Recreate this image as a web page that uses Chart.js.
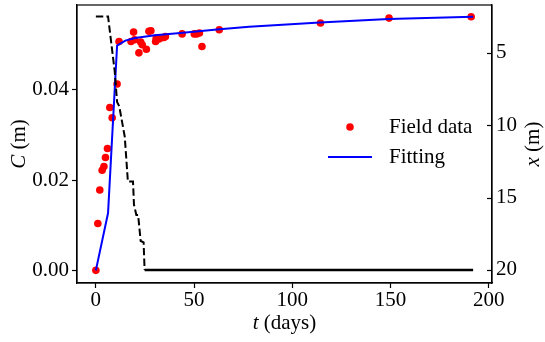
<!DOCTYPE html>
<html>
<head>
<meta charset="utf-8">
<script src="https://cdn.jsdelivr.net/npm/chart.js@4.4.1/dist/chart.umd.min.js"></script>
<style>
  html, body { margin: 0; padding: 0; background: #fff; }
</style>
</head>
<body>
<canvas id="fieldChart" width="545" height="342"></canvas>
<script>
// field measurements: time (days) and C (m)
const fieldDays = [0, 1, 2, 3.2, 4.1, 4.9, 5.9, 7.1, 8.3, 10.8, 11.8, 17.9, 19.2, 19.7, 21.9, 22.8, 23.6, 25.7,
                   27, 28, 30.4, 30.7, 32.4, 34.6, 35.4, 43.9, 50.1, 51.3, 52.7, 54, 62.8, 114.3, 149.2, 191];
const fieldC = [0, 0.0104, 0.0178, 0.0222, 0.023, 0.025, 0.027, 0.0361, 0.0338, 0.0413, 0.0507, 0.0507, 0.0528,
                0.0511, 0.0482, 0.0506, 0.050, 0.049, 0.053, 0.0531, 0.0507, 0.0515, 0.0513, 0.0516, 0.0518,
                0.0524, 0.0524, 0.0524, 0.0526, 0.0496, 0.0533, 0.0548, 0.0559, 0.0562];

// fitted curve
const fitDays = [0, 6.2, 10.8, 15, 20, 30, 43, 63, 78, 114, 149, 192];
const fitC = [0, 0.0127, 0.0498, 0.0509, 0.0515, 0.0521, 0.0526, 0.0534, 0.0540, 0.0549, 0.0557, 0.0562];

// front position x (m), right axis
const frontDays = [0, 6.2, 9.6, 10.8, 11.9, 14.7, 16.3, 18.9, 19.4, 20.6, 21.5, 22.8, 24.3, 24.8, 192];
const frontX = [2.5, 2.5, 6.3, 8.4, 8.7, 10.8, 13.9, 13.9, 15.5, 16.2, 16.2, 18.0, 18.1, 20.0, 20.0];

const dayTicks = [0, 50, 100, 150, 200];
const cTicks = [0, 0.02, 0.04];
const xTicks = [5, 10, 15, 20];

const FONT = "'Liberation Serif', 'Times New Roman', serif";
const FSIZE = 21;

// draw text made of parts with different fonts, centred on (x, y)
function drawParts(ctx, parts, x, y) {
    let total = 0;
    parts.forEach(p => { ctx.font = p.font; total += ctx.measureText(p.text).width; });
    let cx = x - total / 2;
    ctx.textAlign = 'left';
    ctx.textBaseline = 'middle';
    parts.forEach(p => {
        ctx.font = p.font;
        ctx.fillText(p.text, cx, y);
        cx += ctx.measureText(p.text).width;
    });
}

// no extra padding for labels, keep the plot box where the original has it
function noPad(s) {
    s.paddingTop = 0;
    s.paddingBottom = 0;
    s.paddingLeft = 0;
    s.paddingRight = 0;
}

const extras = {
    id: 'extras',
    afterDraw(chart) {
        const { ctx, chartArea: a, scales } = chart;
        ctx.save();
        ctx.fillStyle = '#000';
        ctx.strokeStyle = '#000';

        // frame
        ctx.lineWidth = 1.2;
        ctx.strokeRect(a.left, a.top, a.right - a.left, a.bottom - a.top);

        // right axis ticks point inward
        xTicks.forEach(v => {
            const y = Math.round(scales.y2.getPixelForValue(v)) + 0.5;
            ctx.beginPath();
            ctx.moveTo(a.right - 5, y);
            ctx.lineTo(a.right, y);
            ctx.stroke();
        });

        const norm = FSIZE + 'px ' + FONT;
        const ital = 'italic ' + FSIZE + 'px ' + FONT;
        const midY = (a.top + a.bottom) / 2;

        // axis titles
        drawParts(ctx, [{ text: 't', font: ital }, { text: ' (days)', font: norm }], (a.left + a.right) / 2, 323);

        ctx.save();
        ctx.translate(19, midY);
        ctx.rotate(-Math.PI / 2);
        drawParts(ctx, [{ text: 'C', font: ital }, { text: ' (m)', font: norm }], 0, 0);
        ctx.restore();

        ctx.save();
        ctx.translate(533, midY);
        ctx.rotate(-Math.PI / 2);
        drawParts(ctx, [{ text: 'x', font: ital }, { text: ' (m)', font: norm }], 0, 0);
        ctx.restore();

        // legend
        ctx.fillStyle = 'red';
        ctx.beginPath();
        ctx.arc(350, 127, 3.8, 0, Math.PI * 2);
        ctx.fill();
        ctx.strokeStyle = 'blue';
        ctx.lineWidth = 2;
        ctx.beginPath();
        ctx.moveTo(328, 157);
        ctx.lineTo(372, 157);
        ctx.stroke();
        ctx.fillStyle = '#000';
        ctx.font = norm;
        ctx.textAlign = 'left';
        ctx.textBaseline = 'middle';
        ctx.fillText('Field data', 389, 127);
        ctx.fillText('Fitting', 389, 157);

        ctx.restore();
    }
};

const tickFont = { family: FONT, size: FSIZE };

const ctx = document.getElementById('fieldChart').getContext('2d');
const fieldChart = new Chart(ctx, {
    data: {
        datasets: [
            {
                type: 'line',
                label: 'x',
                data: frontDays.map((t, i) => ({ x: t, y: frontX[i] })),
                yAxisID: 'y2',
                borderColor: '#000',
                borderWidth: 2,
                borderDash: [7.4, 3.2],
                pointRadius: 0,
                tension: 0,
                order: 0,
                segment: {
                    // flat tail looks solid in the original
                    borderDash: c => (c.p0.parsed.y === 20 && c.p1.parsed.y === 20) ? [] : [7.4, 3.2],
                    borderWidth: c => (c.p0.parsed.y === 20 && c.p1.parsed.y === 20) ? 2.6 : 2
                }
            },
            {
                type: 'line',
                label: 'Fitting',
                data: fitDays.map((t, i) => ({ x: t, y: fitC[i] })),
                yAxisID: 'y',
                borderColor: 'blue',
                borderWidth: 2,
                pointRadius: 0,
                tension: 0,
                order: 1
            },
            {
                type: 'scatter',
                label: 'Field data',
                data: fieldDays.map((t, i) => ({ x: t, y: fieldC[i] })),
                yAxisID: 'y',
                backgroundColor: 'red',
                borderWidth: 0,
                pointRadius: 3.8,
                order: 2
            }
        ]
    },
    options: {
        responsive: false,
        animation: false,
        layout: { padding: { top: 5, left: 0, right: 0, bottom: 0 } },
        plugins: { legend: { display: false }, tooltip: { enabled: false } },
        scales: {
            x: {
                type: 'linear',
                min: -9.6,
                max: 201.6,
                afterBuildTicks: axis => { axis.ticks = dayTicks.map(v => ({ value: v })); },
                afterFit: s => { noPad(s); s.height = 59; },
                ticks: { color: '#000', font: tickFont, padding: 0, maxRotation: 0 },
                grid: { drawOnChartArea: false, color: '#000', tickLength: 5, tickWidth: 1.2 },
                border: { color: '#000', width: 1.2 }
            },
            y: {
                type: 'linear',
                position: 'left',
                min: -0.0028,
                max: 0.0588,
                afterBuildTicks: axis => { axis.ticks = cTicks.map(v => ({ value: v })); },
                afterFit: s => { noPad(s); s.width = 77; },
                ticks: { color: '#000', font: tickFont, padding: 3, callback: v => v.toFixed(2) },
                grid: { drawOnChartArea: false, color: '#000', tickLength: 5, tickWidth: 1.2 },
                border: { color: '#000', width: 1.2 }
            },
            y2: {
                type: 'linear',
                position: 'right',
                reverse: true,
                min: 1.71,
                max: 20.9,
                afterBuildTicks: axis => { axis.ticks = xTicks.map(v => ({ value: v })); },
                afterFit: s => { noPad(s); s.width = 53; },
                ticks: { color: '#000', font: tickFont, padding: 4 },
                grid: { display: false, drawTicks: false },
                border: { color: '#000', width: 1.2 }
            }
        }
    },
    plugins: [extras]
});
</script>
</body>
</html>
